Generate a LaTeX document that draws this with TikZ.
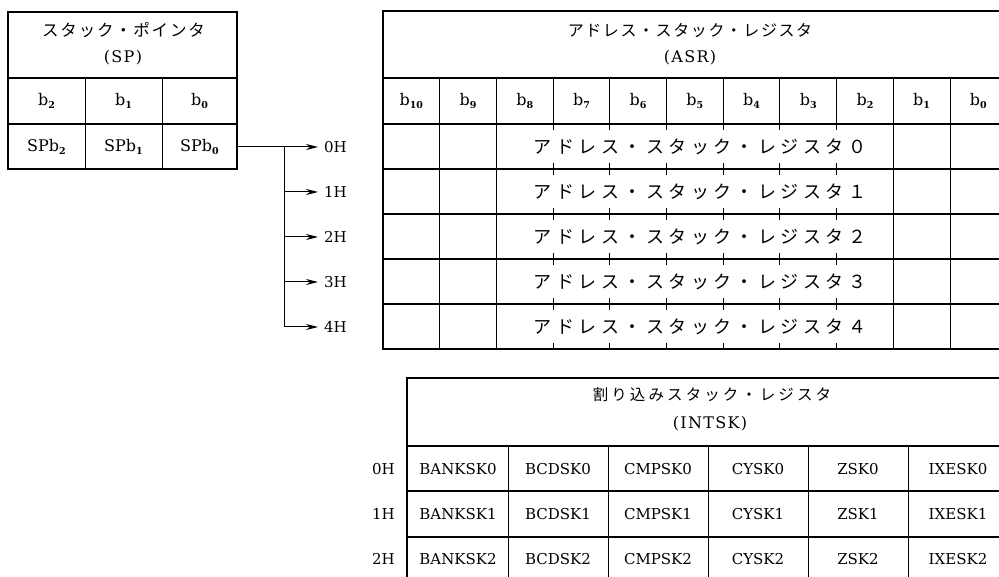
\documentclass[tikz,border=0pt]{standalone}
\usepackage{fontspec}
\usetikzlibrary{arrows.meta}
\setmainfont{DejaVu Serif}
\newfontfamily\serifwide[LetterSpace=8]{DejaVu Serif}
\newfontfamily\jpSP[LetterSpace=11]{Noto Sans CJK JP}
\newfontfamily\jpASR[LetterSpace=10]{Noto Sans CJK JP}
\newfontfamily\jpRow[LetterSpace=25]{Noto Sans CJK JP}
\newfontfamily\jpINT[LetterSpace=20]{Noto Sans CJK JP}
\newcommand\bsub[1]{b\raisebox{-0.4ex}{\fontsize{9.5}{10}\selectfont\bfseries #1}}
\begin{document}
\begin{tikzpicture}[x=1pt,y=-1pt,
  outer/.style={line width=1.7pt},
  hline/.style={line width=1.3pt},
  vline/.style={line width=0.9pt},
  jsp/.style={inner sep=0pt,font={\jpSP\fontsize{16.5}{19}\selectfont}},
  jasr/.style={inner sep=0pt,font={\jpASR\fontsize{16}{19}\selectfont}},
  jrow/.style={inner sep=0pt,font={\jpRow\fontsize{18}{20}\selectfont}},
  jint/.style={inner sep=0pt,font={\jpINT\fontsize{15.5}{18}\selectfont}},
  lat/.style={inner sep=0pt,font={\serifwide\fontsize{16}{18}\selectfont}},
  bit/.style={inner sep=0pt,font={\fontsize{16}{18}\selectfont}},
  cell/.style={inner sep=0pt,font={\fontsize{15}{17}\selectfont}},
  hlab/.style={anchor=west,inner sep=0pt,font={\fontsize{15}{17}\selectfont}},
  rlab/.style={anchor=east,inner sep=0pt,font={\fontsize{15}{17}\selectfont}},
  arr/.style={line width=1pt,shorten >=6pt,-{Stealth[length=12pt,width=6pt]}}]
\useasboundingbox (0,0) rectangle (999,577);
\fill[white] (0,0) rectangle (999,577);

% ---------- SP table ----------
\draw[outer] (8,12) rectangle (237,169);
\draw[hline] (8,78) -- (237,78) (8,124) -- (237,124);
\draw[vline] (85,78) -- (85,169) (162,78) -- (162,169);
\node[jsp] (sptitle) at (123.5,30) {スタック・ポインタ};
\node[lat] (spname) at (123,58) {(SP)};
\node[bit] (spb2) at (46.5,101) {\bsub{2}};
\node[bit] (spb1) at (123.5,101) {\bsub{1}};
\node[bit] (spb0) at (199.5,101) {\bsub{0}};
\node[bit] (spv2) at (46.5,147) {SP\bsub{2}};
\node[bit] (spv1) at (123.5,147) {SP\bsub{1}};
\node[bit] (spv0) at (199.5,147) {SP\bsub{0}};

% ---------- branch arrows ----------
\coordinate (spout) at (237,147);
\foreach \i in {0,...,4}{
  \coordinate (br\i) at (284,147+45*\i);
  \node[hlab] (h\i) at (324,147+45*\i) {\i H};
}
\draw[line width=1pt] (br0) -- (br4);
\draw[arr] (spout) -- (h0.west);
\foreach \i in {1,...,4}{ \draw[arr] (br\i) -- (h\i.west); }

% ---------- ASR table ----------
\draw[outer] (999,11) -- (383,11) -- (383,349) -- (999,349);
\foreach \y in {78,124,169,214,259,304}{ \draw[hline] (383,\y) -- (999,\y); }
\foreach \k in {1,...,10}{ \draw[vline] (383+56.7*\k,78) -- (383+56.7*\k,124); }
\foreach \k in {1,2,9,10}{ \draw[vline] (383+56.7*\k,124) -- (383+56.7*\k,349); }
\foreach \k in {3,...,8}{
  \draw[vline] (383+56.7*\k,124) -- (383+56.7*\k,130);
  \foreach \y in {169,214,259,304}{ \draw[vline] (383+56.7*\k,\y-6) -- (383+56.7*\k,\y+6); }
  \draw[vline] (383+56.7*\k,343) -- (383+56.7*\k,349);
}
\node[jasr] (asrtitle) at (690,31) {アドレス・スタック・レジスタ};
\node[lat] (asrname) at (690,58) {(ASR)};
\foreach \k/\b in {0/10,1/9,2/8,3/7,4/6,5/5,6/4,7/3,8/2,9/1,10/0}{
  \node[bit] (asrb\b) at (383+56.7*\k+28.35,101) {\bsub{\b}};
}
\node[jrow] (asr0) at (700,147) {アドレス・スタック・レジスタ０};
\node[jrow] (asr1) at (700,192) {アドレス・スタック・レジスタ１};
\node[jrow] (asr2) at (700,237) {アドレス・スタック・レジスタ２};
\node[jrow] (asr3) at (700,282) {アドレス・スタック・レジスタ３};
\node[jrow] (asr4) at (700,327) {アドレス・スタック・レジスタ４};

% ---------- INTSK table ----------
\draw[outer] (999,378) -- (407,378) -- (407,577);
\foreach \y in {446,491,537}{ \draw[hline] (407,\y) -- (999,\y); }
\foreach \x in {508,608,708,808,908}{ \draw[vline] (\x,446) -- (\x,577); }
\node[jint] (inttitle) at (712,395) {割り込みスタック・レジスタ};
\node[lat] (intname) at (710,424) {(INTSK)};
\foreach \r in {0,1,2}{
  \node[rlab] (ir\r) at (395,469+45*\r) {\r H};
  \node[cell] (bank\r) at (458,469+45*\r) {BANKSK\r};
  \node[cell] (bcd\r) at (558,469+45*\r) {BCDSK\r};
  \node[cell] (cmp\r) at (658,469+45*\r) {CMPSK\r};
  \node[cell] (cy\r) at (758,469+45*\r) {CYSK\r};
  \node[cell] (z\r) at (858,469+45*\r) {ZSK\r};
  \node[cell] (ixe\r) at (958,469+45*\r) {IXESK\r};
}
\end{tikzpicture}
\end{document}
